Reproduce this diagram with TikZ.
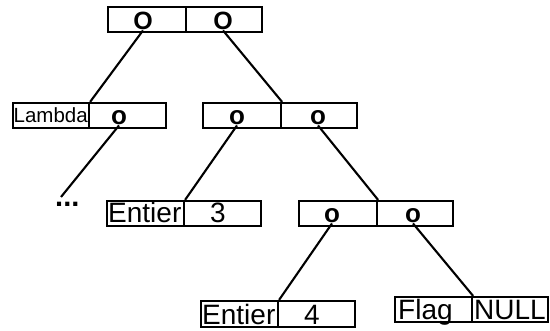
\documentclass[tikz,border=0pt]{standalone}
\usepackage{fontspec}
\setmainfont{Liberation Sans}
\usetikzlibrary{fit}
\tikzset{
  cell/.style={draw=black, line width=2.2pt, inner sep=0pt, rectangle},
  link/.style={draw=black, line width=2.1pt},
  bigo/.style={inner sep=0pt, anchor=base, font=\bfseries\fontsize{25}{26}\selectfont},
  smo/.style={inner sep=0pt, anchor=base, font=\bfseries\fontsize{26}{26}\selectfont},
  lbl/.style={inner sep=0pt, anchor=base west, font=\fontsize{28}{30}\selectfont},
  num/.style={inner sep=0pt, anchor=base, font=\fontsize{28}{30}\selectfont},
  small/.style={inner sep=0pt, anchor=base west, font=\fontsize{20.5}{22}\selectfont},
}
\begin{document}
\begin{tikzpicture}[x=1pt, y=-1pt]
\useasboundingbox (0,0) rectangle (550,331);
% top pair
\node[cell, fit={(108,7) (186,32)}] (tl) {};
\node[cell, fit={(186,7) (262,32)}] (tr) {};
\node[bigo] (o1) at (143,30) {O};
\node[bigo] (o2) at (223,30) {O};
% Lambda box
\node[cell, fit={(13,103) (89,128)}] (ll) {};
\node[cell, fit={(89,103) (166,128)}] (lr) {};
\node[small] (lam) at (13.5,123) {Lambda};
\node[smo] (o3) at (119,125) {o};
% second pair
\node[cell, fit={(203,103) (281,128)}] (sl) {};
\node[cell, fit={(281,103) (357,128)}] (sr) {};
\node[smo] (o4) at (237,125) {o};
\node[smo] (o5) at (318,125) {o};
% Entier 3
\node[cell, fit={(107,201) (184,226)}] (el) {};
\node[cell, fit={(184,201) (261,226)}] (er) {};
\node[lbl] (ent3) at (108,223) {Entier};
\node[num] (n3) at (218,223) {3};
% third pair
\node[cell, fit={(299,201) (377,226)}] (hl) {};
\node[cell, fit={(377,201) (453,226)}] (hr) {};
\node[smo] (o6) at (332,223) {o};
\node[smo] (o7) at (413,223) {o};
% Entier 4
\node[cell, fit={(201,301) (278,327)}] (fl) {};
\node[cell, fit={(278,301) (355,327)}] (fr) {};
\node[lbl] (ent4) at (202,325) {Entier};
\node[num] (n4) at (312,325) {4};
% Flag NULL
\node[cell, fit={(395,297) (472,322)}] (gl) {};
\node[cell, fit={(472,297) (548,322)}] (gr) {};
\node[lbl] (flag) at (398,320) {Flag};
\node[lbl] (null) at (474,320) {NULL};
% ellipsis
\node[inner sep=0pt, anchor=base west, font=\bfseries\fontsize{29}{29}\selectfont] (dots) at (55,207) {...};
\coordinate (dend) at (61,197);
% connectors
\draw[link] (o1.south) -- (ll.north east);
\draw[link] (o2.south) -- (sl.north east);
\draw[link] (o3.south) -- (dend);
\draw[link] (o4.south) -- (el.north east);
\draw[link] (o5.south) -- (hl.north east);
\draw[link] (o6.south) -- (fl.north east);
\draw[link] (o7.south) -- (gl.north east);
\end{tikzpicture}
\end{document}
